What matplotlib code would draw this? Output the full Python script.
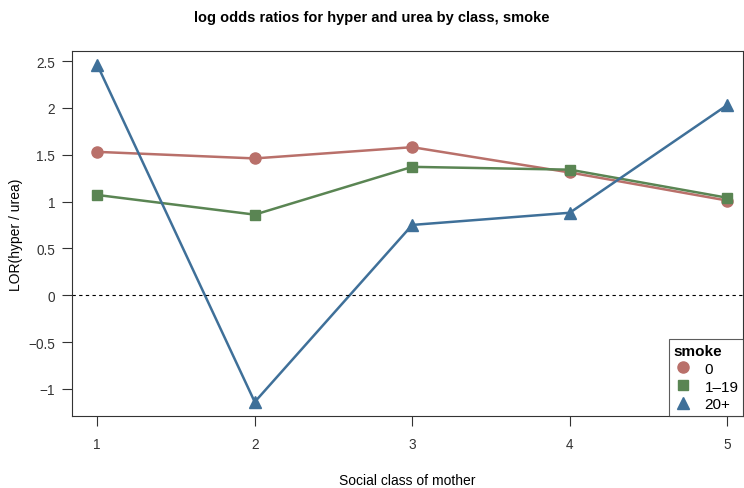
import numpy as np
import matplotlib
matplotlib.use('Agg')
import matplotlib.pyplot as plt

plt.rcParams['font.family'] = ['Liberation Sans', 'DejaVu Sans']

classes = [1, 2, 3, 4, 5]
smoke_levels = ['0', '1\u201319', '20+']
lor_0 = [1.53, 1.46, 1.58, 1.31, 1.01]
lor_1_19 = [1.07, 0.86, 1.37, 1.34, 1.04]
lor_20p = [2.46, -1.14, 0.75, 0.88, 2.03]
yticks = [-1, -0.5, 0, 0.5, 1, 1.5, 2, 2.5]
ytick_labels = ['\u22121', '\u22120.5', '0', '0.5', '1', '1.5', '2', '2.5']

colors = ['#B9706A', '#5A8553', '#3F7099']
markers = ['o', 's', '^']
msizes = [8, 6.5, 8]

fig = plt.figure(figsize=(7.44, 4.89), dpi=100)
ax = fig.add_axes([0.0968, 0.1472, 0.9019, 0.7465])

for vals, c, m, ms, lab in zip([lor_0, lor_1_19, lor_20p], colors, markers, msizes, smoke_levels):
    ax.plot(classes, vals, color=c, lw=1.8, marker=m, ms=ms, label=lab)

ax.axhline(0, color='black', lw=0.8, ls=(0, (3, 3)))

ax.set_xlim(0.84, 5.10)
ax.set_ylim(-1.29, 2.607)
ax.set_xticks(classes)
ax.set_xticklabels([str(c) for c in classes])
ax.set_yticks(yticks)
ax.set_yticklabels(ytick_labels)
ax.tick_params(direction='out', length=7, width=0.8, labelsize=9.8, colors='#333333', pad=5)
ax.tick_params(axis='x', pad=8)
for s in ax.spines.values():
    s.set_linewidth(0.8)
    s.set_color('#333333')

ax.set_xlabel('Social class of mother', fontsize=10, labelpad=16)
ax.set_ylabel('LOR(hyper / urea)', fontsize=10, labelpad=4)
fig.suptitle('log odds ratios for hyper and urea by class, smoke', fontsize=10.5,
             fontweight='bold', y=0.978)

leg = ax.legend(title='smoke', loc='lower right', fontsize=11, title_fontsize=11,
                frameon=True, fancybox=False, borderaxespad=0, handlelength=1.2,
                handletextpad=0.8, borderpad=0.3, labelspacing=0.25)
leg.get_title().set_fontweight('bold')
leg._legend_box.align = 'left'
leg.get_frame().set_edgecolor('#333333')
leg.get_frame().set_linewidth(0.8)
for h in leg.legend_handles:
    h.set_linestyle('none')

fig.savefig('out.png', dpi=100)
